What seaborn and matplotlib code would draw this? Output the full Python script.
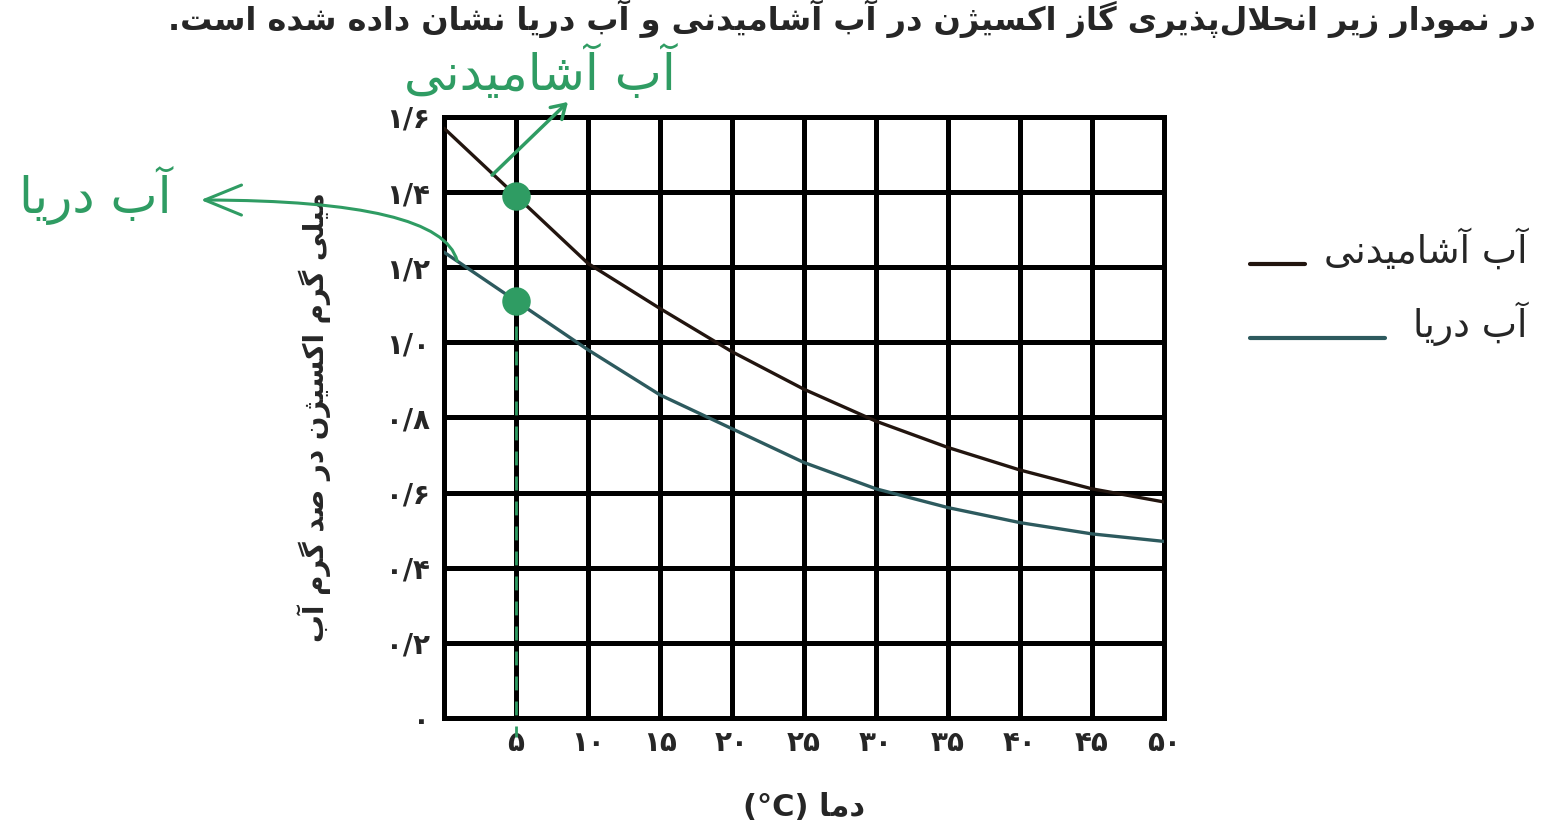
import pandas as pd
import matplotlib.pyplot as plt
import seaborn as sns
from matplotlib.lines import Line2D

# --- data ---
temps = [0, 5, 10, 15, 20, 25, 30, 35, 40, 45, 50]
drinking = [1.57, 1.39, 1.21, 1.09, 0.975, 0.875, 0.79, 0.72, 0.66, 0.61, 0.575]
sea = [1.24, 1.11, 0.98, 0.86, 0.77, 0.68, 0.61, 0.56, 0.52, 0.49, 0.47]
x_ticks = [5, 10, 15, 20, 25, 30, 35, 40, 45, 50]
y_ticks = [0, 0.2, 0.4, 0.6, 0.8, 1.0, 1.2, 1.4, 1.6]
series_names = ['آب آشامیدنی', 'آب دریا']
colors = ['#22150f', '#2d5a5e']
marked_temp = 5
pen = '#2f9c63'

# --- tiny persian shaper (matplotlib has no bidi / joining) ---
FORMS = {
    'آ': ('\uFE81', '\uFE82', None, None), 'ا': ('\uFE8D', '\uFE8E', None, None),
    'ب': ('\uFE8F', '\uFE90', '\uFE91', '\uFE92'), 'پ': ('\uFB56', '\uFB57', '\uFB58', '\uFB59'),
    'ت': ('\uFE95', '\uFE96', '\uFE97', '\uFE98'), 'ح': ('\uFEA1', '\uFEA2', '\uFEA3', '\uFEA4'),
    'د': ('\uFEA9', '\uFEAA', None, None), 'ذ': ('\uFEAB', '\uFEAC', None, None),
    'ر': ('\uFEAD', '\uFEAE', None, None), 'ز': ('\uFEAF', '\uFEB0', None, None),
    'ژ': ('\uFB8A', '\uFB8B', None, None), 'س': ('\uFEB1', '\uFEB2', '\uFEB3', '\uFEB4'),
    'ش': ('\uFEB5', '\uFEB6', '\uFEB7', '\uFEB8'), 'ص': ('\uFEB9', '\uFEBA', '\uFEBB', '\uFEBC'),
    'ک': ('\uFB8E', '\uFB8F', '\uFB90', '\uFB91'), 'گ': ('\uFB92', '\uFB93', '\uFB94', '\uFB95'),
    'ل': ('\uFEDD', '\uFEDE', '\uFEDF', '\uFEE0'), 'م': ('\uFEE1', '\uFEE2', '\uFEE3', '\uFEE4'),
    'ن': ('\uFEE5', '\uFEE6', '\uFEE7', '\uFEE8'), 'و': ('\uFEED', '\uFEEE', None, None),
    'ه': ('\uFEE9', '\uFEEA', '\uFEEB', '\uFEEC'), 'ی': ('\uFBFC', '\uFBFD', '\uFBFE', '\uFBFF'),
}
LAM_ALEF = {'ا': ('\uFEFB', '\uFEFC'), 'آ': ('\uFEF5', '\uFEF6')}


def joins_next(c):
    return c in FORMS and FORMS[c][2] is not None


def fa(text):
    out = []
    i = 0
    while i < len(text):
        c = text[i]
        if c not in FORMS:
            if c != '\u200c':
                out.append(c)
            i += 1
            continue
        conn_prev = i > 0 and joins_next(text[i - 1])
        if c == 'ل' and i + 1 < len(text) and text[i + 1] in LAM_ALEF:
            out.append(LAM_ALEF[text[i + 1]][1 if conn_prev else 0])
            i += 2
            continue
        conn_next = joins_next(c) and i + 1 < len(text) and text[i + 1] in FORMS
        iso, fin, ini, med = FORMS[c]
        if conn_prev and conn_next:
            out.append(med)
        elif conn_prev:
            out.append(fin)
        elif conn_next:
            out.append(ini)
        else:
            out.append(iso)
        i += 1
    return ''.join(reversed(out))


DIGITS = str.maketrans('0123456789', '۰۱۲۳۴۵۶۷۸۹')


def fa_dec(v):
    s = f'{v:.1f}'.replace('.', '/') if v else '0'
    return s.translate(DIGITS)


def fa_int(v):
    return str(v).translate(DIGITS)


df = pd.DataFrame({
    'temp': temps * 2,
    'oxygen': drinking + sea,
    'water': [series_names[0]] * len(temps) + [series_names[1]] * len(temps),
})

sns.set_theme(style='white')
plt.rcParams['font.family'] = ['DejaVu Sans']

fig = plt.figure(figsize=(15.44, 8.26), dpi=100)
ax = fig.add_axes([0.2876, 0.1308, 0.4663, 0.7276])

sns.lineplot(data=df, x='temp', y='oxygen', hue='water', palette=colors,
             linewidth=2.4, legend=False, ax=ax, zorder=3)

ax.set_xlim(0, 50)
ax.set_ylim(0, 1.6)
ax.set_xticks(x_ticks)
ax.set_yticks(y_ticks)
ax.set_xticklabels([fa_int(t) for t in x_ticks], fontsize=20, fontweight='bold')
ax.set_yticklabels([fa_dec(t) for t in y_ticks], fontsize=20, fontweight='bold')
ax.tick_params(axis='y', length=0, pad=10)
ax.tick_params(axis='x', length=0, pad=8)
ax.grid(True, color='black', linewidth=3.6)
for s in ax.spines.values():
    s.set_color('black')
    s.set_linewidth(3.6)

ax.set_xlabel('(°C) ' + fa('دما'), fontsize=22, fontweight='bold', labelpad=26)
ax.set_ylabel(fa('میلی گرم اکسیژن در صد گرم آب'), fontsize=20, fontweight='bold', labelpad=40)

# legend on the right, drawn by hand (different line lengths)
fig.add_artist(Line2D([1250 / 1544, 1305 / 1544], [1 - 264 / 826] * 2, color=colors[0], lw=3))
fig.add_artist(Line2D([1250 / 1544, 1385 / 1544], [1 - 338 / 826] * 2, color=colors[1], lw=3))
fig.text(1527 / 1544, 1 - 250 / 826, fa(series_names[0]), ha='right', va='center', fontsize=27)
fig.text(1527 / 1544, 1 - 324 / 826, fa(series_names[1]), ha='right', va='center', fontsize=27)

# question text at the top
fig.text(1536 / 1544, 1 - 30 / 826,
         fa('در نمودار زیر انحلال\u200cپذیری گاز اکسیژن در آب آشامیدنی و آب دریا نشان داده شده است.'),
         ha='right', va='baseline', fontsize=23, fontweight='bold')

# green pen marks
ax.scatter([marked_temp, marked_temp], [drinking[1], sea[1]], s=380, color=pen, zorder=5, clip_on=False)
ax.plot([marked_temp, marked_temp], [sea[1], -0.05], color=pen, lw=2, ls=(0, (5, 4)), clip_on=False, zorder=4)
ax.annotate('', xy=(570, 826 - 100), xycoords='figure pixels',
            xytext=(3.2, 1.44), textcoords='data',
            arrowprops=dict(arrowstyle='->,head_length=0.8,head_width=0.5', color=pen, lw=2.5))
ax.annotate('', xy=(198, 826 - 200), xycoords='figure pixels',
            xytext=(0.95, 1.21), textcoords='data',
            arrowprops=dict(arrowstyle='->,head_length=2.2,head_width=0.9', color=pen, lw=2.2,
                            connectionstyle='angle3,angleA=100,angleB=0'))
fig.text(540 / 1544, 1 - 72 / 826, fa(series_names[0]), color=pen, ha='center', va='center', fontsize=36)
fig.text(95 / 1544, 1 - 195 / 826, fa(series_names[1]), color=pen, ha='center', va='center', fontsize=36)

fig.savefig('out.png', dpi=100)
